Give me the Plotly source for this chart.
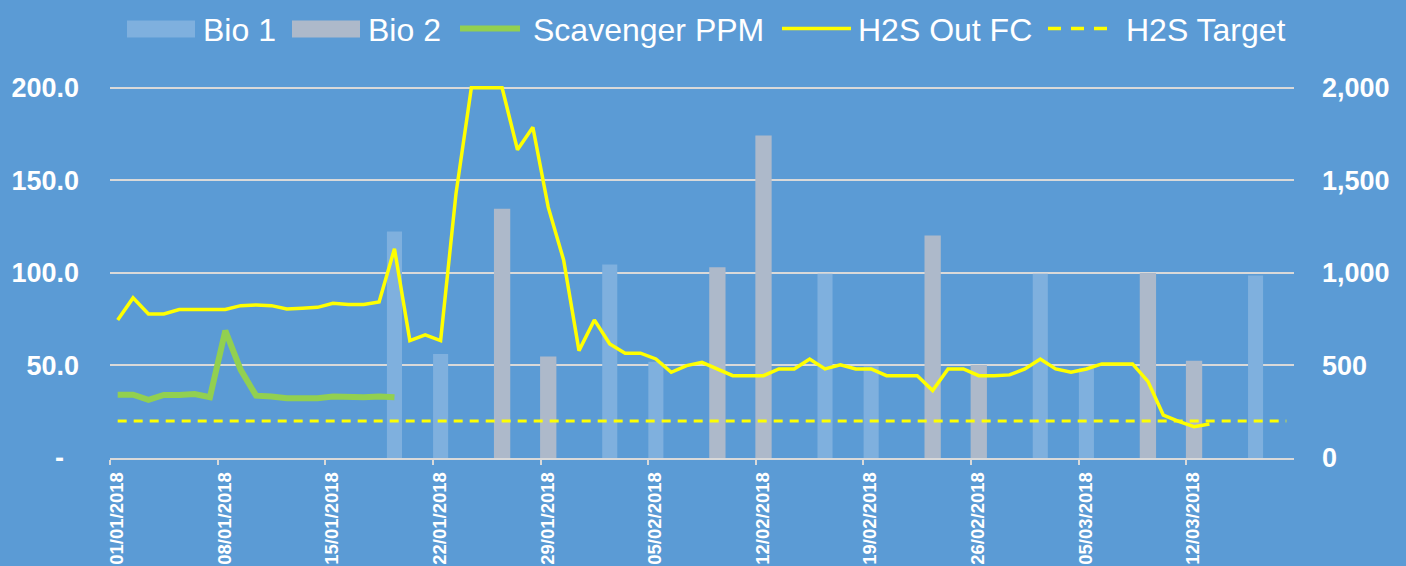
import pandas as pd
import plotly.graph_objects as go

# ---------------- data ----------------
start_date = "2018-01-01"
n_days = 77

h2s_out_fc = [746, 865, 778, 778, 802, 802, 802, 802, 823, 827,
              823, 805, 809, 814, 836, 829, 829, 843, 1130, 634,
              665, 634, 1427, 2000, 2000, 2000, 1665, 1787, 1355, 1070,
              580, 746, 616, 566, 566, 535, 463, 499, 517, 481,
              445, 445, 445, 481, 481, 535, 481, 503, 481, 481,
              445, 445, 445, 364, 481, 481, 445, 445, 449, 481,
              535, 481, 463, 481, 508, 508, 508, 414, 232, 198,
              169, 184]

scavenger_ppm = [34.2, 34.2, 31.4, 34.1, 34.1, 34.6, 32.8, 68.8, 47.6, 33.7,
                 33.2, 32.3, 32.3, 32.3, 33.2, 32.8, 32.8, 33.2, 32.8]

h2s_target = [200] * n_days

bio1_dates = ["2018-01-19", "2018-01-22", "2018-02-02", "2018-02-05", "2018-02-16",
              "2018-02-19", "2018-03-02", "2018-03-05", "2018-03-16"]
bio1_values = [122.3, 56.2, 104.5, 52, 99.5, 49.5, 99.5, 48.5, 98.6]

bio2_dates = ["2018-01-26", "2018-01-29", "2018-02-09", "2018-02-12",
              "2018-02-23", "2018-02-26", "2018-03-09", "2018-03-12"]
bio2_values = [134.6, 54.8, 103, 174.2, 120.2, 50.3, 100, 52.6]

legend_labels = ["Bio 1", "Bio 2", "Scavenger PPM", "H2S Out FC", "H2S Target"]

left_tickvals = [0, 50, 100, 150, 200]
left_ticktext = ["-\u00a0\u00a0", "50.0", "100.0", "150.0", "200.0"]
right_tickvals = [0, 500, 1000, 1500, 2000]

# ---------------- styling / layout constants ----------------
W, H = 1406, 566
ML, MR, MT, MB = 110, 112, 84.5, 108
BG = "#5B9BD5"
GRID = "#D9D9D9"
FONT = "Liberation Sans, Arial, sans-serif"
C_BIO1 = "rgb(127,176,222)"
C_BIO2 = "#ADB9CA"
C_GREEN = "#92D050"
C_YELLOW = "#FFFF00"

dates = pd.date_range(start_date, periods=n_days, freq="D")
tick_dates = pd.date_range(start_date, periods=11, freq="7D")
tickvals_x = [d - pd.Timedelta(hours=12) for d in tick_dates]
ticktext_x = [d.strftime("%d/%m/%Y") for d in tick_dates]
DAY_MS = 86400000

fig = go.Figure()

fig.add_trace(go.Bar(
    name=legend_labels[0], x=pd.to_datetime(bio1_dates), y=bio1_values,
    marker=dict(color=C_BIO1, line=dict(width=0)),
    width=DAY_MS * 0.98, yaxis="y",
))
fig.add_trace(go.Bar(
    name=legend_labels[1], x=pd.to_datetime(bio2_dates), y=bio2_values,
    marker=dict(color=C_BIO2, line=dict(width=0)),
    width=DAY_MS * 1.06, yaxis="y",
))
fig.add_trace(go.Scatter(
    name=legend_labels[2], x=dates[:len(scavenger_ppm)], y=scavenger_ppm,
    mode="lines", line=dict(color=C_GREEN, width=6), yaxis="y",
))
fig.add_trace(go.Scatter(
    name=legend_labels[3], x=dates[:len(h2s_out_fc)], y=h2s_out_fc,
    mode="lines", line=dict(color=C_YELLOW, width=3.5), yaxis="y2",
))
fig.add_trace(go.Scatter(
    name=legend_labels[4], x=dates, y=h2s_target,
    mode="lines", line=dict(color=C_YELLOW, width=3, dash="9px,7px"), yaxis="y2",
))

# ---- manual legend (wide swatches like the original) ----
pw = W - ML - MR
ph = H - MT - MB
def px_x(p):
    return (p - ML) / pw
def px_y(p):
    return (H - MB - p) / ph

shapes = []
for (x0, x1), col in [((127, 195), C_BIO1), ((292, 360), C_BIO2)]:
    shapes.append(dict(type="rect", xref="paper", yref="paper",
                       x0=px_x(x0), x1=px_x(x1), y0=px_y(37), y1=px_y(20),
                       fillcolor=col, line=dict(width=0), layer="above"))
for (x0, x1), col, wdt, dash in [((460, 520), C_GREEN, 6, "solid"),
                                 ((782, 851), C_YELLOW, 3.5, "solid"),
                                 ((1048, 1107), C_YELLOW, 3.5, "13px,10px")]:
    shapes.append(dict(type="line", xref="paper", yref="paper",
                       x0=px_x(x0), x1=px_x(x1), y0=px_y(28), y1=px_y(28),
                       line=dict(color=col, width=wdt, dash=dash), layer="above"))

annotations = []
for lbl, xs in zip(legend_labels, [202, 367, 532, 857, 1125]):
    annotations.append(dict(text=lbl, xref="paper", yref="paper",
                            x=px_x(xs), y=px_y(29), xanchor="left", yanchor="middle",
                            showarrow=False, borderpad=0,
                            font=dict(size=32, color="white", family=FONT)))

fig.update_layout(
    width=W, height=H,
    paper_bgcolor=BG, plot_bgcolor=BG,
    margin=dict(l=ML, r=MR, t=MT, b=MB, autoexpand=False),
    barmode="overlay",
    font=dict(family=FONT, color="white"),
    showlegend=False,
    shapes=shapes,
    annotations=annotations,
    xaxis=dict(
        type="date",
        range=[dates[0] - pd.Timedelta(hours=12), dates[-1] + pd.Timedelta(hours=12)],
        tickmode="array", tickvals=tickvals_x, ticktext=ticktext_x,
        tickangle=-90, tickfont=dict(size=18.5, color="white", family=FONT, weight="bold"),
        ticks="outside", ticklen=5, tickcolor=GRID, tickwidth=1.5,
        ticklabelshift=7,
        showline=True, linecolor=GRID, linewidth=1.5,
        showgrid=False, zeroline=False,
    ),
    yaxis=dict(
        range=[0, 201.5], tickmode="array", tickvals=left_tickvals, ticktext=left_ticktext,
        tickfont=dict(size=27, color="white", family=FONT, weight="bold"),
        showgrid=True, gridcolor=GRID, gridwidth=1.5,
        zeroline=False, showline=False, ticks="", ticklabelstandoff=30,
    ),
    yaxis2=dict(
        range=[0, 2015], overlaying="y", side="right",
        tickmode="array", tickvals=right_tickvals, tickformat=",",
        tickfont=dict(size=27, color="white", family=FONT, weight="bold"),
        showgrid=False, zeroline=False, showline=False, ticks="", ticklabelstandoff=27,
    ),
)

fig.write_html("out.html",
               config={"displayModeBar": False},
               post_script="document.body.style.margin='0';document.body.style.overflow='hidden';")
